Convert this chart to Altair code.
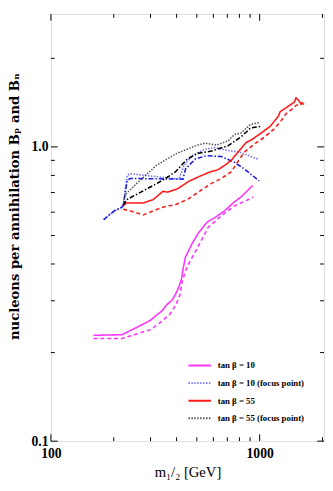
import altair as alt
import pandas as pd

# ---------------- data ----------------
mag_p_m = [160, 219, 240, 277, 300, 320, 340, 359, 380, 396, 411, 422, 429, 441, 475, 506, 558, 610, 679, 756, 813, 925]
mag_p_B = [0.229, 0.230, 0.2375, 0.250, 0.2576, 0.268, 0.2766, 0.291, 0.3008, 0.3166, 0.3357, 0.355, 0.383, 0.422, 0.470, 0.507, 0.554, 0.575, 0.606, 0.650, 0.675, 0.739]

mag_n_m = [160, 219, 258, 300, 331, 369, 396, 415, 426, 450, 492, 567, 655, 756, 931]
mag_n_B = [0.2234, 0.2234, 0.2315, 0.2393, 0.252, 0.2685, 0.2896, 0.314, 0.3505, 0.393, 0.4406, 0.533, 0.583, 0.629, 0.675]

bfp_p_m = [179, 201, 219, 222, 232, 240, 297, 411, 434, 475, 547, 610, 679, 813, 989]
bfp_p_B = [0.566, 0.606, 0.624, 0.633, 0.80, 0.811, 0.797, 0.777, 0.865, 0.934, 0.982, 0.995, 0.977, 0.957, 0.906]

bfp_n_m = [179, 201, 219, 222, 232, 240, 429, 442, 492, 558, 655, 756, 842, 993]
bfp_n_B = [0.566, 0.606, 0.624, 0.633, 0.77, 0.781, 0.777, 0.843, 0.910, 0.934, 0.927, 0.887, 0.843, 0.767]

r_p_m = [222, 231, 277, 309, 344, 363, 404, 458, 509, 578, 632, 679, 730, 756, 798, 858, 920, 1008, 1122, 1227, 1253, 1392, 1468, 1494, 1538, 1576, 1605]
r_p_B = [0.633, 0.645, 0.645, 0.662, 0.706, 0.702, 0.720, 0.764, 0.791, 0.822, 0.837, 0.865, 0.899, 0.928, 0.970, 1.033, 1.060, 1.110, 1.174, 1.268, 1.316, 1.384, 1.421, 1.468, 1.438, 1.402, 1.421]

r_n_m = [222, 240, 277, 309, 344, 397, 458, 528, 588, 655, 730, 783, 842, 938, 1044, 1163, 1250, 1342, 1442, 1494, 1550, 1635]
r_n_B = [0.614, 0.606, 0.587, 0.606, 0.624, 0.637, 0.667, 0.715, 0.752, 0.781, 0.822, 0.887, 0.957, 1.020, 1.074, 1.144, 1.211, 1.299, 1.350, 1.384, 1.395, 1.402]

k_p_m = [222, 227, 258, 320, 397, 492, 547, 621, 704, 756, 813, 905, 1008]
k_p_B = [0.633, 0.688, 0.752, 0.865, 0.947, 1.008, 1.030, 1.014, 1.047, 1.10, 1.115, 1.193, 1.211]

k_n_m = [222, 231, 277, 344, 397, 450, 509, 588, 704, 813, 905, 1008]
k_n_B = [0.633, 0.662, 0.709, 0.771, 0.825, 0.910, 0.952, 0.968, 1.008, 1.081, 1.159, 1.174]

series_names = [
    "tan β = 10", "tan β = 10 ·",
    "tan β = 10 (focus point)", "tan β = 10 (focus point) ·",
    "tan β = 55", "tan β = 55 ·",
    "tan β = 55 (focus point)", "tan β = 55 (focus point) ·",
]
legend_names = ["tan β = 10", "tan β = 10 (focus point)", "tan β = 55", "tan β = 55 (focus point)"]
series_m = [mag_p_m, mag_n_m, bfp_p_m, bfp_n_m, r_p_m, r_n_m, k_p_m, k_n_m]
series_B = [mag_p_B, mag_n_B, bfp_p_B, bfp_n_B, r_p_B, r_n_B, k_p_B, k_n_B]

x_major = [100, 1000]
x_minor = [200, 300, 400, 500, 600, 700, 800, 900, 2000]
y_major = [0.1, 1.0]
y_minor = [0.2, 0.3, 0.4, 0.5, 0.6, 0.7, 0.8, 0.9, 2.0]

# ---------------- styles ----------------
colors = ["#ff33ff", "#ff33ff", "#7070ff", "#1a1ae6", "#ff1a1a", "#ff1a1a", "#555555", "#000000"]
dashes = [[1, 0], [4, 3], [1.5, 1.5], [5, 2, 1.5, 2], [1, 0], [4, 3], [1.5, 1.5], [5, 2, 1.5, 2]]

rows = []
for name, ms, bs in zip(series_names, series_m, series_B):
    for i, (m, b) in enumerate(zip(ms, bs)):
        rows.append({"series": name, "m": m, "B": b, "i": i})
df = pd.DataFrame(rows)

W, H = 280, 438
TL_MAJ, TL_MIN = 7, 4
SERIF = "Liberation Serif"

xscale = alt.Scale(type="log", domain=[100, 2034], nice=False)
yscale = alt.Scale(type="log", domain=[0.1, 2.83], nice=False)

xaxis = alt.Axis(values=x_major, format="d", ticks=False, domain=False, grid=False,
                 labelFont=SERIF, labelFontWeight="bold", labelFontSize=14, labelPadding=6,
                 labelFlush=False, labelColor="black",
                 title="m₁/₂ [GeV]", titleFont=SERIF, titleFontWeight="normal",
                 titleFontSize=15, titlePadding=4, titleColor="black")
yaxis = alt.Axis(values=y_major, format=".1f", ticks=False, domain=False, grid=False,
                 labelFont=SERIF, labelFontWeight="bold", labelFontSize=14, labelPadding=3,
                 labelFlush=False, labelColor="black",
                 title="nucleons per annihilation Bₚ and Bₙ", titleFont="DejaVu Serif",
                 titleFontWeight="bold", titleFontSize=13.5, titleColor="black",
                 titleX=-37, titleY=197, titleAngle=-90, titleBaseline="middle", titleAlign="center")

X = lambda f: alt.X(f, type="quantitative", scale=xscale, axis=xaxis)
Y = lambda f: alt.Y(f, type="quantitative", scale=yscale, axis=yaxis)

lines = alt.Chart(df).mark_line(strokeWidth=1.6, clip=True).encode(
    x=X("m"),
    y=Y("B"),
    color=alt.Color("series:N", scale=alt.Scale(domain=series_names, range=colors),
                    legend=alt.Legend(values=legend_names, title=None, orient="none",
                                      legendX=140, legendY=348, symbolType="stroke",
                                      symbolSize=529, symbolStrokeWidth=2, rowPadding=-11,
                                      labelOffset=6, labelFont=SERIF, labelFontWeight="bold",
                                      labelFontSize=9, labelColor="black", labelLimit=200)),
    strokeDash=alt.StrokeDash("series:N", scale=alt.Scale(domain=series_names, range=dashes)),
    order="i:Q",
)

dxmaj = pd.DataFrame({"t": x_major})
dxmin = pd.DataFrame({"t": x_minor})
dymaj = pd.DataFrame({"t": y_major})
dymin = pd.DataFrame({"t": y_minor})

def xt(d, L):
    bot = alt.Chart(d).mark_rule(color="black", strokeWidth=1).encode(
        x=X("t"), y=alt.value(H), y2=alt.value(H - L))
    top = alt.Chart(d).mark_rule(color="black", strokeWidth=1).encode(
        x=X("t"), y=alt.value(0), y2=alt.value(L))
    return [bot, top]

def yt(d, L):
    left = alt.Chart(d).mark_rule(color="black", strokeWidth=1).encode(
        y=Y("t"), x=alt.value(0), x2=alt.value(L))
    right = alt.Chart(d).mark_rule(color="black", strokeWidth=1).encode(
        y=Y("t"), x=alt.value(W), x2=alt.value(W - L))
    return [left, right]

ticks = xt(dxmaj, TL_MAJ) + xt(dxmin, TL_MIN) + yt(dymaj, TL_MAJ) + yt(dymin, TL_MIN)

chart = alt.layer(lines, *ticks).properties(
    width=W, height=H,
    autosize=alt.AutoSizeParams(type="none"),
    padding={"left": 44, "top": 0, "right": 1, "bottom": 45},
).configure_view(stroke="black", strokeWidth=1.5).configure(background="white")

chart.save("out.html", embed_options={"renderer": "svg", "actions": False})
